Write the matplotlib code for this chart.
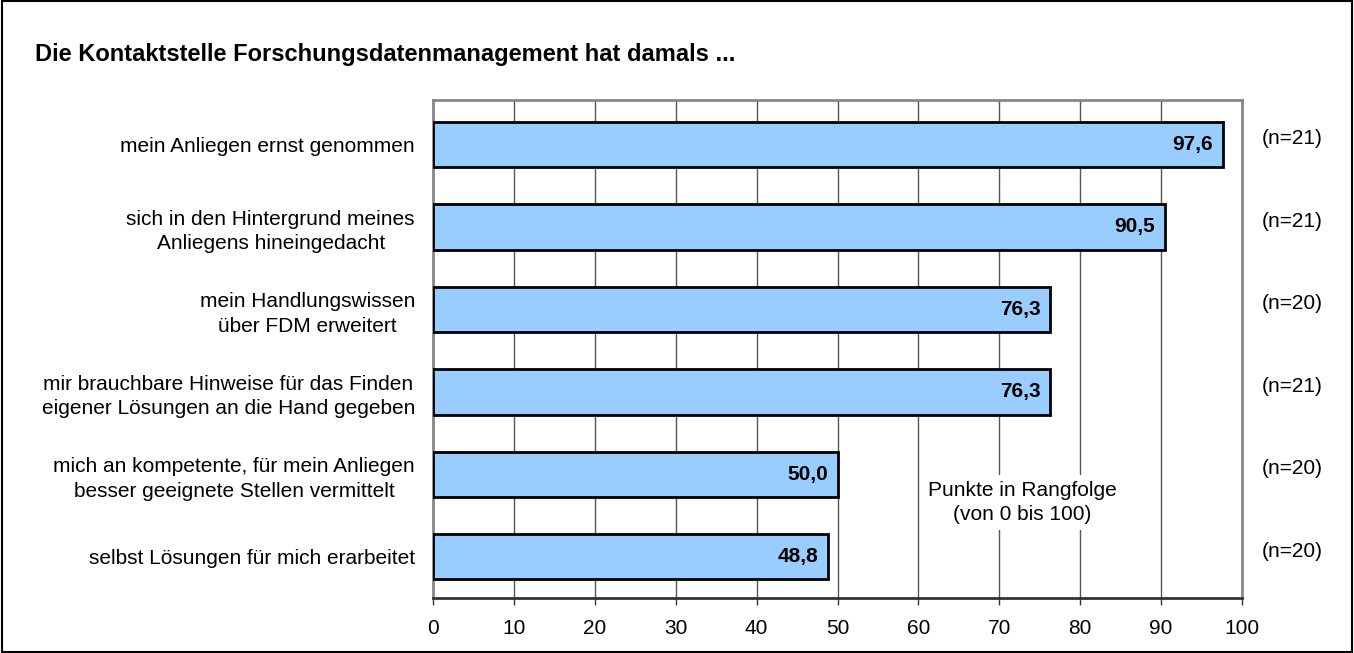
import matplotlib.pyplot as plt
from matplotlib.patches import Rectangle

plt.rcParams['font.family'] = ['Liberation Sans', 'DejaVu Sans']

title = 'Die Kontaktstelle Forschungsdatenmanagement hat damals ...'
categories = ['mein Anliegen ernst genommen',
              'sich in den Hintergrund meines\nAnliegens hineingedacht',
              'mein Handlungswissen\nüber FDM erweitert',
              'mir brauchbare Hinweise für das Finden\neigener Lösungen an die Hand gegeben',
              'mich an kompetente, für mein Anliegen\nbesser geeignete Stellen vermittelt',
              'selbst Lösungen für mich erarbeitet']
values = [97.6, 90.5, 76.3, 76.3, 50.0, 48.8]
n_labels = ['(n=21)', '(n=21)', '(n=20)', '(n=21)', '(n=20)', '(n=20)']
xticks = [0, 10, 20, 30, 40, 50, 60, 70, 80, 90, 100]
note = 'Punkte in Rangfolge\n(von 0 bis 100)'

fig = plt.figure(figsize=(13.54, 6.53), dpi=100)
ax = fig.add_axes([0.3198, 0.0842, 0.5975, 0.7627])

ypos = list(range(len(categories)))
ax.barh(ypos, values, height=0.55, color='#99CCFF', edgecolor='black', linewidth=2, zorder=3)
ax.set_ylim(len(categories) - 0.5, -0.54)
ax.set_xlim(0, 100)

for y, v in zip(ypos, values):
    ax.text(v - 1.2, y, f'{v:.1f}'.replace('.', ','), ha='right', va='center',
            fontsize=15, fontweight='bold', zorder=4)

for y, n in zip(ypos, n_labels):
    ax.text(1.062, y - 0.07, n, transform=ax.get_yaxis_transform(), ha='center', va='center',
            fontsize=15)

ax.set_yticks(ypos)
ax.set_yticklabels(categories, fontsize=15, multialignment='center', linespacing=1.35)
ax.tick_params(axis='y', length=0, pad=13)

ax.set_xticks(xticks)
ax.set_xticklabels([str(t) for t in xticks], fontsize=15)
ax.tick_params(axis='x', direction='out', length=5, width=1, color='#333333', pad=10)

ax.grid(axis='x', color='#555555', linewidth=1, zorder=0)
for side in ['top', 'right', 'left']:
    ax.spines[side].set_color('#888888')
    ax.spines[side].set_linewidth(2)
ax.spines['bottom'].set_color('#333333')
ax.spines['bottom'].set_linewidth(2)

ax.text(72.8, 4.34, note, ha='center', va='center', fontsize=15, linespacing=1.35,
        bbox=dict(facecolor='white', edgecolor='none', pad=4), zorder=2)

fig.text(35 / 1354, 1 - 55 / 653, title, ha='left', va='center', fontsize=17, fontweight='bold')

fig.patches.append(Rectangle((0.0015, 0.002), 0.997, 0.996, transform=fig.transFigure,
                             fill=False, edgecolor='black', linewidth=1.5))

fig.savefig('out.png', dpi=100)
